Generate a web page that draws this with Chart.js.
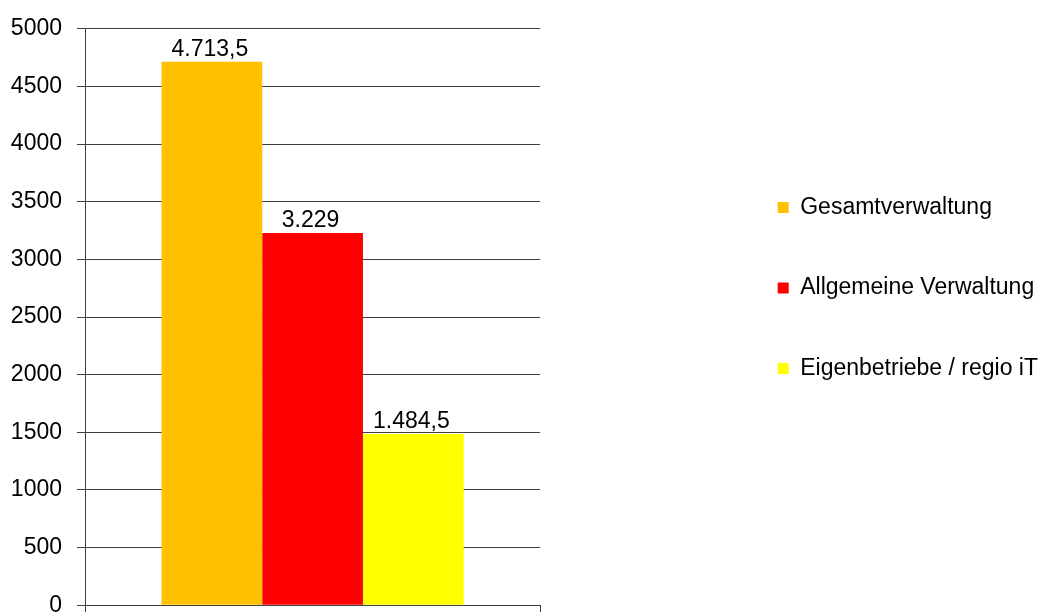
<!DOCTYPE html>
<html>
<head>
<meta charset="utf-8">
<script src="https://cdn.jsdelivr.net/npm/chart.js@4/dist/chart.umd.min.js"></script>
<style>
  html, body { margin: 0; padding: 0; background: #fff; }
  #frame { width: 1042px; height: 612px; overflow: hidden; }
  #wrap { width: 1042px; height: 634px; position: relative; }
</style>
</head>
<body>
<div id="frame"><div id="wrap"><canvas id="myChart"></canvas></div></div>
<script>
// data
var categories = [''];
var seriesNames = ['Gesamtverwaltung', 'Allgemeine Verwaltung', 'Eigenbetriebe / regio iT'];
var seriesValues = [[4713.5], [3229], [1484.5]];
var seriesColors = ['#FFC000', '#FF0000', '#FFFF00'];
var yTicks = [0, 500, 1000, 1500, 2000, 2500, 3000, 3500, 4000, 4500, 5000];

var FONT = "'Liberation Sans', Arial, sans-serif";
var gridColor = '#404040';

// value labels above the bars, german number format
var valueLabels = {
    id: 'valueLabels',
    afterDatasetsDraw: function(chart) {
        var ctx = chart.ctx;
        ctx.save();
        ctx.font = '23px ' + FONT;
        ctx.fillStyle = '#000';
        ctx.textAlign = 'center';
        ctx.textBaseline = 'alphabetic';
        chart.data.datasets.forEach(function(ds, i) {
            chart.getDatasetMeta(i).data.forEach(function(bar, j) {
                var txt = ds.data[j].toLocaleString('de-DE');
                ctx.fillText(txt, bar.x - 2, bar.y - 6);
            });
        });
        ctx.restore();
    }
};

var ctx = document.getElementById('myChart').getContext('2d');
var chart = new Chart(ctx, {
    type: 'bar',
    data: {
        labels: categories,
        datasets: seriesNames.map(function(name, i) {
            return {
                label: name,
                data: seriesValues[i],
                backgroundColor: seriesColors[i],
                borderWidth: 0
            };
        })
    },
    options: {
        responsive: true,
        maintainAspectRatio: false,
        animation: false,
        categoryPercentage: 0.664,
        barPercentage: 1,
        layout: { padding: { top: 14, right: -6, left: 0, bottom: 0 } },
        font: { family: FONT, size: 23 },
        plugins: {
            tooltip: { enabled: false },
            legend: {
                position: 'right',
                align: 'start',
                maxWidth: 340,
                title: { display: true, text: '', padding: { top: 100, bottom: 10 } },
                labels: {
                    color: '#000',
                    font: { family: FONT, size: 23 },
                    boxWidth: 11,
                    boxHeight: 11,
                    padding: 57.5
                }
            }
        },
        scales: {
            x: {
                ticks: { display: false },
                grid: { display: true, drawOnChartArea: false, drawTicks: true, tickLength: 7, color: gridColor },
                border: { display: true, color: gridColor, width: 1 }
            },
            y: {
                min: 0,
                max: 5000,
                afterBuildTicks: function(scale) {
                    scale.ticks = yTicks.map(function(v) { return { value: v }; });
                },
                afterFit: function(scale) { scale.width = 85; },
                ticks: {
                    color: '#000',
                    font: { family: FONT, size: 23 },
                    padding: 15,
                    callback: function(v) { return String(v); }
                },
                grid: { color: gridColor, tickLength: 8 },
                border: { display: true, color: gridColor, width: 1 }
            },
            pad: {
                type: 'linear',
                position: 'right',
                display: true,
                ticks: { display: false },
                grid: { display: false },
                border: { display: false },
                afterFit: function(scale) { scale.width = 180; }
            }
        }
    },
    plugins: [valueLabels]
});
</script>
</body>
</html>
